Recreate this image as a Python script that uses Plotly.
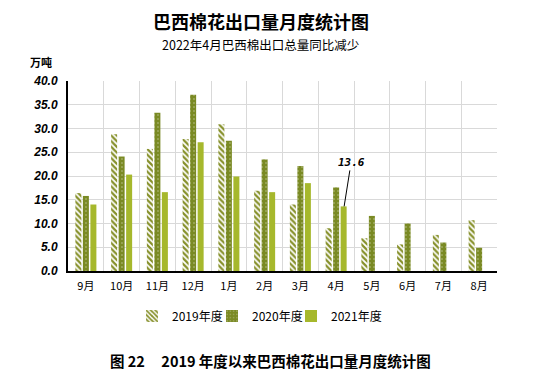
import plotly.graph_objects as go

months = ["9月", "10月", "11月", "12月", "1月", "2月", "3月", "4月", "5月", "6月", "7月", "8月"]
y2019 = [16.4, 28.8, 25.7, 27.8, 30.9, 16.9, 14.0, 9.0, 6.9, 5.6, 7.6, 10.7]
y2020 = [15.8, 24.1, 33.3, 37.1, 27.4, 23.5, 22.1, 17.6, 11.6, 10.0, 6.0, 4.9]
y2021 = [14.0, 20.3, 16.6, 27.1, 19.9, 16.6, 18.5, 13.6, None, None, None, None]
series_names = ["2019年度", "2020年度", "2021年度"]

C19 = "#86902a"
C20 = "#7a8a24"
C21 = "#a6b82c"
FONT = "Noto Sans CJK SC, Liberation Sans, sans-serif"

# page body has an 8px default margin: compensate
OFF = 8
W, H = 541 - OFF, 379 - OFF
PL, PR, PT, PB = 68, 497, 81, 271          # plot area in window pixels
PW, PH = PR - PL, PB - PT

fig = go.Figure()
fig.add_trace(go.Bar(
    x=months, y=y2019, name=series_names[0], legend="legend",
    marker=dict(color=C19, line=dict(width=0),
                pattern=dict(shape="\\", fillmode="replace", bgcolor="white",
                             fgcolor=C19, size=4, solidity=0.55)),
))
fig.add_trace(go.Bar(
    x=months, y=y2020, name=series_names[1], legend="legend2",
    marker=dict(color=C20, line=dict(width=0),
                pattern=dict(shape=".", fillmode="overlay", bgcolor=C20,
                             fgcolor="white", size=4, solidity=0.12)),
))
fig.add_trace(go.Bar(
    x=months, y=y2021, name=series_names[2], legend="legend3",
    marker=dict(color=C21, line=dict(width=0)),
))
# invisible trace for vertical category grid
fig.add_trace(go.Scatter(x=[0, 12], y=[0, 0], xaxis="x2", mode="lines",
                         line=dict(width=0), showlegend=False, hoverinfo="skip"))

def leg(text_start):
    return dict(orientation="h", x=(text_start - 38 - PL) / PW, xanchor="left",
                y=-(316 - PB) / PH, yanchor="middle",
                font=dict(size=12, family=FONT), itemwidth=30,
                bgcolor="rgba(0,0,0,0)")

fig.update_layout(
    width=W, height=H,
    margin=dict(l=PL - OFF, r=541 - PR, t=PT - OFF, b=379 - PB, autoexpand=False),
    paper_bgcolor="white", plot_bgcolor="white",
    barmode="group", bargap=0.37, bargroupgap=0.2,
    font=dict(family=FONT, color="black"),
    title=dict(text="巴西棉花出口量月度统计图", x=(261 - OFF) / W, xanchor="center",
               y=1 - (23 - OFF) / H, yanchor="middle", yref="container",
               font=dict(size=18, family=FONT, weight="bold", color="black")),
    xaxis=dict(type="category", showgrid=False, showline=True, linecolor="black",
               linewidth=2, ticks="", ticklabelstandoff=4,
               tickfont=dict(size=11, color="black"), zeroline=False),
    xaxis2=dict(overlaying="x", range=[0, 12], dtick=1, showgrid=True,
                gridcolor="#d9d9d9", gridwidth=1, showticklabels=False,
                zeroline=False, showline=False, ticks=""),
    yaxis=dict(range=[0, 40], dtick=5, tickformat=".1f", showgrid=True,
               gridcolor="#d9d9d9", gridwidth=1, showline=True, linecolor="black",
               linewidth=2, zeroline=False, ticks="", ticklabelstandoff=6,
               tickfont=dict(size=12, family="Liberation Sans", weight="bold",
                             style="italic", color="black")),
    legend=leg(170),
    legend2=leg(250),
    legend3=leg(329),
    showlegend=True,
)

fig.add_annotation(text="2022年4月巴西棉出口总量同比减少", xref="paper", yref="paper",
                   x=(260 - PL) / PW, y=1 + (PT - 44) / PH, xanchor="center",
                   yanchor="middle", showarrow=False, font=dict(size=12.5, family=FONT))
fig.add_annotation(text="万吨", xref="paper", yref="paper",
                   x=(28 - PL) / PW, y=1 + (PT - 62) / PH, xanchor="left",
                   yanchor="middle", showarrow=False,
                   font=dict(size=11, family=FONT, weight="bold"))
fig.add_annotation(text="图 22\u00a0\u00a0\u00a0\u00a0 2019 年度以来巴西棉花出口量月度统计图",
                   xref="paper", yref="paper",
                   x=(270 - PL) / PW, y=-(360 - PB) / PH, xanchor="center",
                   yanchor="middle", showarrow=False,
                   font=dict(size=14.5, family=FONT, weight="bold"))
fig.add_annotation(text="13.6", x=months[7], y=y2021[7], xref="x", yref="y",
                   xshift=8, showarrow=True, arrowhead=0, arrowwidth=1,
                   arrowcolor="black", ax=7, ay=-44,
                   font=dict(size=11, family="DejaVu Sans Mono", weight="bold",
                             style="italic"))

fig.write_html("out.html")
